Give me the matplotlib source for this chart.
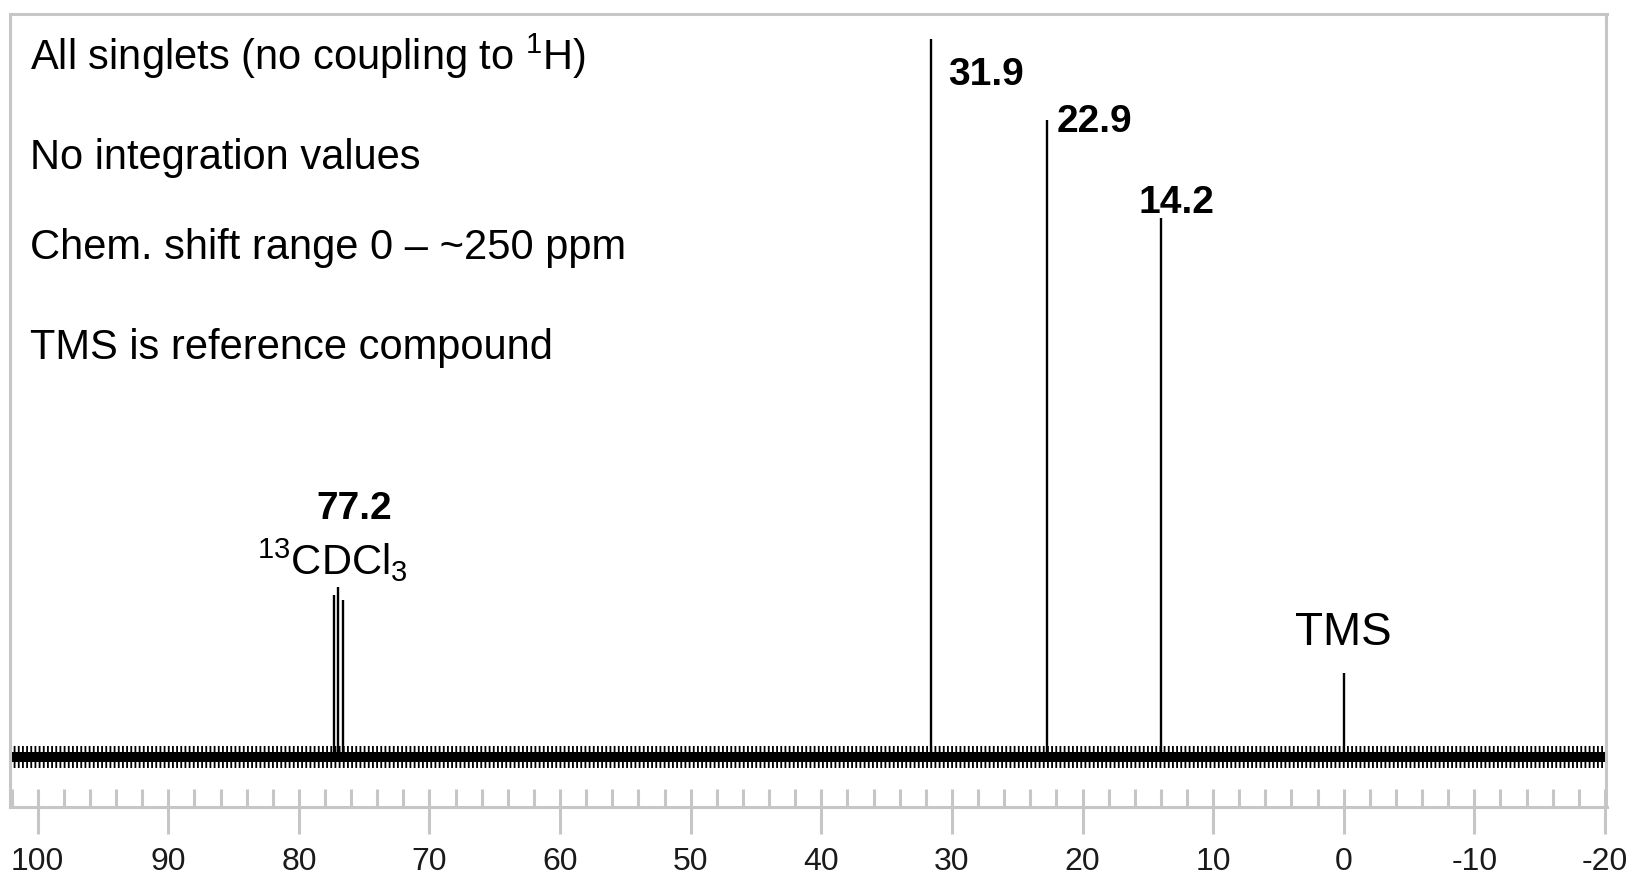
#!/usr/bin/env python3
"""13C NMR spectrum sketch (CDCl3 solvent, TMS reference) -> out.png"""
import matplotlib
matplotlib.use("Agg")
import matplotlib.pyplot as plt
from matplotlib.ticker import MultipleLocator

# peak positions (ppm) and heights (arbitrary units, baseline = 0)
PEAK_PPM = [31.6, 22.7, 14.0, 0.0, 77.3, 77.0, 76.6]
PEAK_HEIGHT = [718, 637, 539, 84, 162, 170, 157]

# bold shift labels: text, x (ppm), baseline y, alignment
SHIFT_LABELS = ["31.9", "22.9", "14.2", "77.2"]
SHIFT_LABEL_X = [30.3, 21.95, 15.75, 75.8]
SHIFT_LABEL_Y = [672, 625, 544, 238]
SHIFT_LABEL_HA = ["left", "left", "left", "center"]

NOTES = [
    r"All singlets (no coupling to $^{1}$H)",
    "No integration values",
    "Chem. shift range 0 \u2013 ~250 ppm",
    "TMS is reference compound",
]
NOTES_Y = [687, 588, 498, 398]

XTICKS = [100, 90, 80, 70, 60, 50, 40, 30, 20, 10, 0, -10, -20]
XTICK_LABELS = ["100", "90", "80", "70", "60", "50", "40", "30", "20", "10",
                "0", "-10", "-20"]

NOISE_CORE = 5     # half-thickness of the dense baseline noise
NOISE_SPIKES = 11  # reach of the occasional noise spikes

GREY = "#c6c6c6"

plt.rcParams["font.family"] = ["Liberation Sans", "DejaVu Sans"]
plt.rcParams["mathtext.default"] = "regular"
plt.rcParams["hatch.linewidth"] = 1.3

fig = plt.figure(figsize=(16.33, 8.77), dpi=100)
ax = fig.add_axes([10 / 1633, 1 - 807 / 877, 1596.5 / 1633, 793 / 877])

xlo, xhi = 102.12, -20.12
ax.set_xlim(xlo, xhi)
ax.set_ylim(-50, 743)

# baseline noise: dense core plus a hatched fringe for the spikes
ax.fill_between([xlo, xhi], -NOISE_SPIKES, NOISE_SPIKES, facecolor="none",
                edgecolor="black", hatch="||||", lw=0)
ax.fill_between([xlo, xhi], -NOISE_CORE, NOISE_CORE, color="black", lw=0)

# peaks
ax.vlines(PEAK_PPM, 0, PEAK_HEIGHT, color="black", lw=1.7)

for txt, x, y, ha in zip(SHIFT_LABELS, SHIFT_LABEL_X, SHIFT_LABEL_Y, SHIFT_LABEL_HA):
    ax.text(x, y, txt, ha=ha, va="baseline", fontsize=28, fontweight="bold")

ax.text(77.4, 182, r"$^{13}$CDCl$_{3}$", ha="center", va="baseline", fontsize=30)
ax.text(0.0, 112, "TMS", ha="center", va="baseline", fontsize=33)

for txt, y in zip(NOTES, NOTES_Y):
    ax.text(100.6, y, txt, ha="left", va="baseline", fontsize=30)

# frame / axis styling
for side in ("top", "left", "right", "bottom"):
    ax.spines[side].set_color(GREY)
    ax.spines[side].set_linewidth(2.2)

ax.set_yticks([])
ax.set_xticks(XTICKS)
ax.set_xticklabels(XTICK_LABELS)
ax.xaxis.set_minor_locator(MultipleLocator(2))
ax.xaxis.remove_overlapping_locs = False
ax.tick_params(axis="x", which="major", direction="out", length=19.5,
               width=2.2, color=GREY, labelsize=23, pad=9, labelcolor="#1a1a1a")
ax.tick_params(axis="x", which="minor", direction="in", length=13,
               width=2.2, color=GREY)

fig.savefig("out.png", dpi=100)
